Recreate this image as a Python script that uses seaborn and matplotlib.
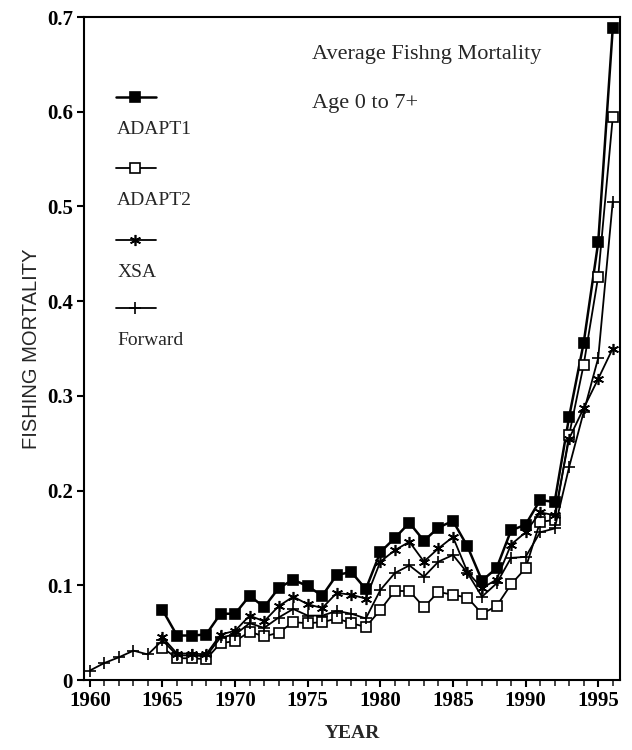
import matplotlib
matplotlib.use("Agg")
import matplotlib.pyplot as plt
import seaborn as sns
import pandas as pd

# Average fishing mortality (ages 0 to 7+) by assessment method
years_forward = list(range(1960, 1997))
years_adapt = list(range(1965, 1997))

adapt1 = [0.074, 0.047, 0.047, 0.048, 0.070, 0.070, 0.089, 0.077, 0.097, 0.106,
          0.099, 0.089, 0.111, 0.114, 0.096, 0.135, 0.150, 0.166, 0.147, 0.161,
          0.168, 0.141, 0.105, 0.118, 0.158, 0.164, 0.190, 0.188, 0.278, 0.356,
          0.462, 0.688]
adapt2 = [0.034, 0.023, 0.023, 0.022, 0.039, 0.041, 0.051, 0.046, 0.050, 0.061,
          0.060, 0.061, 0.065, 0.060, 0.056, 0.074, 0.094, 0.094, 0.077, 0.093,
          0.090, 0.087, 0.070, 0.078, 0.101, 0.118, 0.167, 0.169, 0.259, 0.333,
          0.426, 0.594]
xsa = [0.045, 0.028, 0.028, 0.027, 0.048, 0.052, 0.068, 0.062, 0.078, 0.088,
       0.080, 0.076, 0.092, 0.090, 0.086, 0.125, 0.137, 0.146, 0.125, 0.139,
       0.151, 0.114, 0.097, 0.106, 0.143, 0.156, 0.177, 0.174, 0.255, 0.287,
       0.318, 0.350]
forward = [0.010, 0.018, 0.024, 0.031, 0.027, 0.042, 0.026, 0.026, 0.025, 0.045,
           0.048, 0.060, 0.055, 0.066, 0.075, 0.068, 0.068, 0.073, 0.070, 0.065,
           0.095, 0.113, 0.121, 0.109, 0.125, 0.132, 0.113, 0.088, 0.102, 0.129,
           0.130, 0.156, 0.160, 0.225, 0.283, 0.340, 0.505]

series_names = ["ADAPT1", "ADAPT2", "XSA", "Forward"]
title_lines = ["Average Fishng Mortality", "Age 0 to 7+"]
x_ticks = [1960, 1965, 1970, 1975, 1980, 1985, 1990, 1995]
y_ticks = [0, 0.1, 0.2, 0.3, 0.4, 0.5, 0.6, 0.7]
y_tick_labels = ["0", "0.1", "0.2", "0.3", "0.4", "0.5", "0.6", "0.7"]

sns.set_style("ticks")
SERIF = ["Liberation Serif", "DejaVu Serif"]

frames = [
    pd.DataFrame({"year": years_adapt, "F": adapt1, "method": "ADAPT1"}),
    pd.DataFrame({"year": years_adapt, "F": adapt2, "method": "ADAPT2"}),
    pd.DataFrame({"year": years_adapt, "F": xsa, "method": "XSA"}),
    pd.DataFrame({"year": years_forward, "F": forward, "method": "Forward"}),
]
df = pd.concat(frames, ignore_index=True)

styles = {
    "ADAPT1": dict(marker="s", markersize=7, markerfacecolor="black", linewidth=1.8),
    "ADAPT2": dict(marker="s", markersize=7, markerfacecolor="white", linewidth=1.3),
    "XSA": dict(marker=(6, 2, 0), markersize=8, markerfacecolor="black", linewidth=1.3),
    "Forward": dict(marker="+", markersize=9, markerfacecolor="black", linewidth=1.3),
}

fig = plt.figure(figsize=(6.32, 7.5), dpi=100)
ax = fig.add_axes([0.133, 0.0933, 0.848, 0.884])

for name in series_names:
    sub = df[df["method"] == name]
    st = styles[name]
    sns.lineplot(data=sub, x="year", y="F", ax=ax, color="black",
                 marker=st["marker"], markersize=st["markersize"],
                 markerfacecolor=st["markerfacecolor"], markeredgecolor="black",
                 markeredgewidth=1.2, linewidth=st["linewidth"], legend=False)

ax.set_xlim(1959.6, 1996.5)
ax.set_ylim(0, 0.7)
ax.set_xticks(x_ticks)
ax.set_xticks(range(1960, 1997), minor=True)
ax.set_yticks(y_ticks)
ax.set_yticklabels(y_tick_labels)
for lab in ax.get_xticklabels() + ax.get_yticklabels():
    lab.set_fontfamily(SERIF)
    lab.set_fontsize(15)
    lab.set_fontweight("bold")
ax.tick_params(axis="both", which="major", direction="out", length=5, width=1.5,
               colors="black", pad=3)
ax.tick_params(axis="x", which="minor", direction="out", length=4, width=1.2)
for sp in ax.spines.values():
    sp.set_linewidth(1.5)
    sp.set_color("black")

ax.set_xlabel("YEAR", fontsize=14, fontweight="bold", labelpad=10, family=SERIF)
ax.set_ylabel("FISHING MORTALITY", fontsize=14.5, family=["Liberation Sans"],
              labelpad=4)

# title block inside the plot area
ax.text(0.425, 0.943, title_lines[0], transform=ax.transAxes, fontsize=16,
        ha="left", va="center", family=SERIF)
ax.text(0.425, 0.870, title_lines[1], transform=ax.transAxes, fontsize=16,
        ha="left", va="center", family=SERIF)

# stacked legend: line sample above each label
legend_rows = [0.879, 0.772, 0.664, 0.561]
for name, yrow in zip(series_names, legend_rows):
    st = styles[name]
    ax.plot([0.06, 0.135], [yrow, yrow], transform=ax.transAxes, color="black",
            linewidth=st["linewidth"], clip_on=False)
    ax.plot([0.095], [yrow], transform=ax.transAxes, color="black",
            marker=st["marker"], markersize=st["markersize"],
            markerfacecolor=st["markerfacecolor"], markeredgecolor="black",
            markeredgewidth=1.2, clip_on=False)
    ax.text(0.062, yrow - 0.049, name, transform=ax.transAxes, fontsize=14,
            ha="left", va="center", family=SERIF)

fig.savefig("out.png", dpi=100)
